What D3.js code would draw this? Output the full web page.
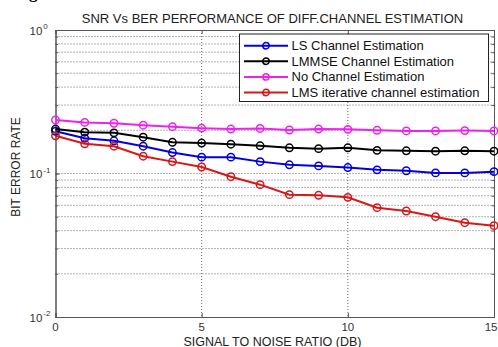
<!DOCTYPE html>
<html>
<head>
<meta charset="utf-8">
<script src="https://cdn.jsdelivr.net/npm/d3@7"></script>
<style>
  body { margin: 0; background: #fff; }
  svg { display: block; font-family: "Liberation Sans", Arial, sans-serif; }
  .grid line { stroke: #444; stroke-width: 0.8; stroke-dasharray: 1,2; }
  .tick-label { font-size: 11.5px; fill: #333; }
</style>
</head>
<body>
<script>
// chart data
//= ================================
var snr = [0, 1, 2, 3, 4, 5, 6, 7, 8, 9, 10, 11, 12, 13, 14, 15];

var berLS = [0.197, 0.176, 0.169, 0.155, 0.140, 0.130, 0.130, 0.121,
             0.115, 0.113, 0.110, 0.106, 0.1045, 0.101, 0.101, 0.103];
var berLMMSE = [0.204, 0.194, 0.192, 0.179, 0.165, 0.163, 0.160, 0.156,
                0.151, 0.149, 0.151, 0.145, 0.144, 0.143, 0.144, 0.143];
var berNone = [0.236, 0.227, 0.224, 0.217, 0.212, 0.207, 0.204, 0.206,
               0.201, 0.204, 0.203, 0.200, 0.198, 0.198, 0.199, 0.198];
var berLMS = [0.183, 0.161, 0.155, 0.132, 0.121, 0.111, 0.095, 0.0836,
              0.0712, 0.0705, 0.0682, 0.0578, 0.0548, 0.050, 0.0454, 0.0433];

var seriesNames = ["LS Channel Estimation", "LMMSE Channel Estimation",
                   "No Channel Estimation", "LMS iterative channel estimation"];
var seriesColors = ["#0000e0", "#000000", "#ee22ee", "#d81818"];

var xTicks = [0, 5, 10, 15];
var yMajor = [0.01, 0.1, 1];
var yExponents = ["-2", "-1", "0"];

var titleText = "SNR Vs BER PERFORMANCE OF DIFF.CHANNEL ESTIMATION";
var xLabel = "SIGNAL TO NOISE RATIO (DB)";
var yLabel = "BIT ERROR RATE";

// Step 1: Set up our chart
//= ================================
var svgWidth = 498;
var svgHeight = 347;

var margin = { top: 30, right: 4, bottom: 30, left: 55.5 };
var chartWidth = svgWidth - margin.left - margin.right;
var chartHeight = svgHeight - margin.top - margin.bottom;

var svg = d3.select("body")
    .append("svg")
    .attr("width", svgWidth)
    .attr("height", svgHeight);

// clipped caption fragment from the page above
svg.append("text")
    .attr("x", 29)
    .attr("y", -2)
    .style("font-family", "'Liberation Serif', serif")
    .style("font-weight", "bold")
    .style("font-size", "17px")
    .text("g");

var chartGroup = svg.append("g")
    .attr("transform", `translate(${margin.left}, ${margin.top})`);

var xScale = d3.scaleLinear()
    .domain([0, 15])
    .range([0, chartWidth]);

var yScale = d3.scaleLog()
    .domain([0.01, 1])
    .range([chartHeight, 0]);

var yMinor = yScale.ticks();

/*****************************************/
// grid
var grid = chartGroup.append("g").classed("grid", true);

grid.selectAll(".hgrid")
    .data(yMinor.filter(d => d > 0.01 && d < 1))
    .enter()
    .append("line")
    .attr("x1", 0)
    .attr("x2", chartWidth)
    .attr("y1", d => yScale(d))
    .attr("y2", d => yScale(d));

grid.selectAll(".vgrid")
    .data(xTicks.filter(d => d > 0 && d < 15))
    .enter()
    .append("line")
    .attr("x1", d => xScale(d))
    .attr("x2", d => xScale(d))
    .attr("y1", 0)
    .attr("y2", chartHeight);

/*****************************************/
// axes (matlab style: ticks inward, box all round)
var bottomAxis = d3.axisBottom(xScale).tickValues(xTicks).tickSize(-4).tickFormat("");
var topAxis = d3.axisTop(xScale).tickValues(xTicks).tickSize(-4).tickFormat("");
var leftMinor = d3.axisLeft(yScale).tickValues(yMinor).tickSize(-2.5).tickFormat("");
var rightMinor = d3.axisRight(yScale).tickValues(yMinor).tickSize(-2.5).tickFormat("");
var leftMajor = d3.axisLeft(yScale).tickValues(yMajor).tickSize(-4).tickFormat("");
var rightMajor = d3.axisRight(yScale).tickValues(yMajor).tickSize(-4).tickFormat("");

function styleAxis(g) {
    g.selectAll("path, line").attr("stroke", "#555").attr("stroke-width", 1);
}

chartGroup.append("g").attr("transform", `translate(0, ${chartHeight})`).call(bottomAxis).call(styleAxis);
chartGroup.append("g").call(topAxis).call(styleAxis);
chartGroup.append("g").call(leftMinor).call(styleAxis);
chartGroup.append("g").call(leftMajor).call(styleAxis);
chartGroup.append("g").attr("transform", `translate(${chartWidth}, 0)`).call(rightMinor).call(styleAxis);
chartGroup.append("g").attr("transform", `translate(${chartWidth}, 0)`).call(rightMajor).call(styleAxis);

// tick labels (last one kept inside the page edge)
chartGroup.selectAll(".xlab")
    .data(xTicks)
    .enter()
    .append("text")
    .classed("tick-label", true)
    .attr("x", d => d === 15 ? svgWidth - margin.left - 0.5 : xScale(d))
    .attr("y", chartHeight + 13.5)
    .attr("text-anchor", d => d === 15 ? "end" : "middle")
    .text(d => d);

var ylabs = chartGroup.selectAll(".ylab")
    .data(yMajor)
    .enter()
    .append("text")
    .classed("tick-label", true)
    .attr("x", -26)
    .attr("y", d => yScale(d) + 4.5);

ylabs.append("tspan").text("10");
ylabs.append("tspan")
    .attr("dx", 1)
    .attr("dy", -5.5)
    .style("font-size", "8px")
    .text((d, i) => yExponents[i]);

/**********************************************/
// lines
var allSeries = [berLS, berLMMSE, berNone, berLMS];

var berLine = d3.line()
    .x((d, i) => xScale(snr[i]))
    .y(d => yScale(d));

allSeries.forEach(function (vals, k) {
    chartGroup.append("path")
        .attr("d", berLine(vals))
        .attr("fill", "none")
        .attr("stroke", seriesColors[k])
        .attr("stroke-width", 2);

    chartGroup.selectAll(".pt" + k)
        .data(vals)
        .enter()
        .append("circle")
        .attr("cx", (d, i) => xScale(snr[i]))
        .attr("cy", d => yScale(d))
        .attr("r", 3.7)
        .attr("fill", "none")
        .attr("stroke", seriesColors[k])
        .attr("stroke-width", 1.5);
});

/**********************************************/
// legend
var legend = chartGroup.append("g")
    .attr("transform", "translate(184, 4)");

legend.append("rect")
    .attr("width", 249)
    .attr("height", 67.5)
    .attr("fill", "#fff")
    .attr("stroke", "#222")
    .attr("stroke-width", 1);

seriesNames.forEach(function (name, k) {
    var row = legend.append("g")
        .attr("transform", `translate(0, ${11.7 + k * 15.6})`);
    row.append("line")
        .attr("x1", 4.5).attr("x2", 48.5)
        .attr("stroke", seriesColors[k])
        .attr("stroke-width", 2);
    row.append("circle")
        .attr("cx", 26.5)
        .attr("r", 3.2)
        .attr("fill", "none")
        .attr("stroke", seriesColors[k])
        .attr("stroke-width", 1.5);
    row.append("text")
        .attr("x", 52)
        .attr("y", 4.5)
        .style("font-size", "13px")
        .attr("fill", "#111")
        .text(name);
});

/**********************************************/
// labels
svg.append("text")
    .attr("x", 272.5)
    .attr("y", 22.5)
    .attr("text-anchor", "middle")
    .style("font-size", "13px")
    .attr("fill", "#222")
    .text(titleText);

svg.append("text")
    .attr("x", 272.5)
    .attr("y", 345.5)
    .attr("text-anchor", "middle")
    .style("font-size", "12.5px")
    .attr("fill", "#222")
    .text(xLabel);

svg.append("text")
    .attr("transform", "translate(20, 167) rotate(-90)")
    .attr("text-anchor", "middle")
    .style("font-size", "12px")
    .attr("fill", "#222")
    .text(yLabel);
</script>
</body>
</html>
